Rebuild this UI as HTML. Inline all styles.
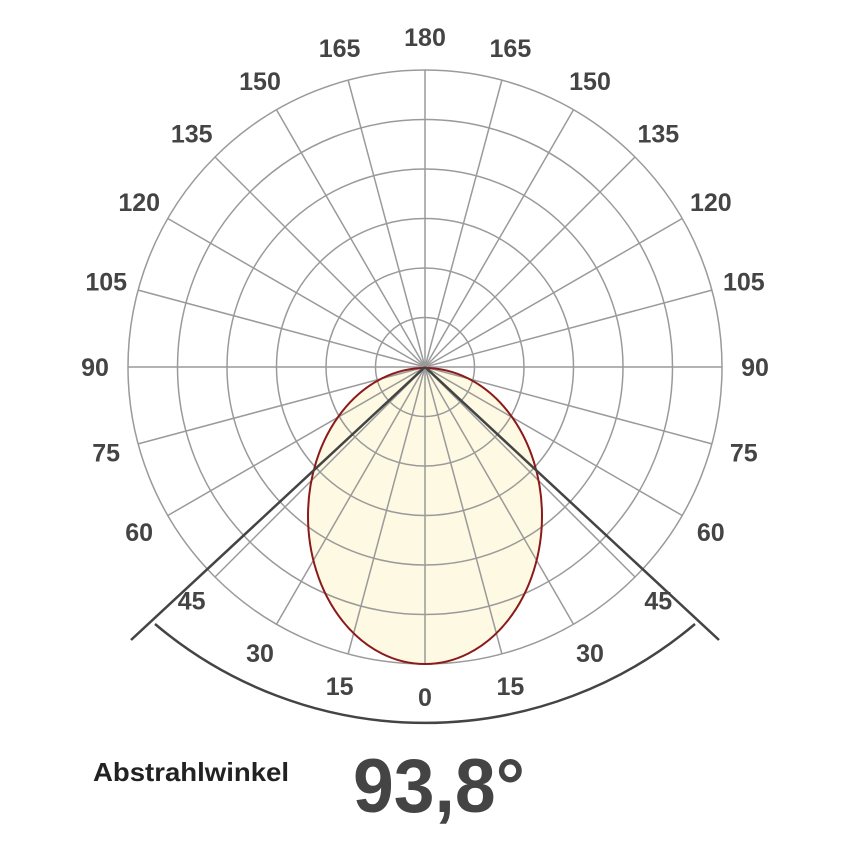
<!DOCTYPE html>
<html><head><meta charset="utf-8"><style>html,body{margin:0;padding:0;background:#fff}svg{display:block}</style></head>
<body>
<svg id="s" width="850" height="850" viewBox="0 0 850 850" xmlns="http://www.w3.org/2000/svg">
<ellipse cx="425" cy="516" rx="117" ry="148" fill="#fdf9e2"/>
<g id="grid" stroke="#9a9a9a" stroke-width="1.5" fill="none"></g>
<ellipse cx="425" cy="516" rx="117" ry="148" fill="none" stroke="#8b1a1a" stroke-width="2"/>
<g stroke="#444" stroke-width="2.5" fill="none" stroke-linecap="butt">
<line x1="425" y1="367" x2="131" y2="640"/>
<line x1="425" y1="367" x2="719" y2="640"/>
<path d="M155 624 A418 418 0 0 0 695 624"/>
</g>
<g id="lab" font-family="Liberation Sans, sans-serif" font-weight="bold" font-size="25" fill="#444" text-anchor="middle"></g>
<text x="93" y="781" font-family="Liberation Sans, sans-serif" font-weight="bold" font-size="26" fill="#222" textLength="196" lengthAdjust="spacingAndGlyphs">Abstrahlwinkel</text>
<text x="353" y="812" font-family="Liberation Sans, sans-serif" font-weight="bold" font-size="76" fill="#444" textLength="172" lengthAdjust="spacingAndGlyphs">93,8°</text>
</svg>
<script>
var cx=425,cy=367,R=297,ns="http://www.w3.org/2000/svg";
var g=document.getElementById('grid'),l=document.getElementById('lab');
for(var i=1;i<=6;i++){var c=document.createElementNS(ns,'circle');c.setAttribute('cx',cx);c.setAttribute('cy',cy);c.setAttribute('r',R*i/6);g.appendChild(c);}
for(var a=0;a<360;a+=15){var t=a*Math.PI/180;var ln=document.createElementNS(ns,'line');
ln.setAttribute('x1',cx);ln.setAttribute('y1',cy);ln.setAttribute('x2',cx+R*Math.sin(t));ln.setAttribute('y2',cy+R*Math.cos(t));g.appendChild(ln);}
for(var a=-180;a<=180;a+=15){if(a==-180)continue;var t=a*Math.PI/180;var x=cx+330*Math.sin(t),y=cy+330*Math.cos(t);
var tx=document.createElementNS(ns,'text');tx.setAttribute('x',x.toFixed(1));tx.setAttribute('y',(y+9).toFixed(1));tx.textContent=Math.abs(a);l.appendChild(tx);}
</script>
</body></html>
